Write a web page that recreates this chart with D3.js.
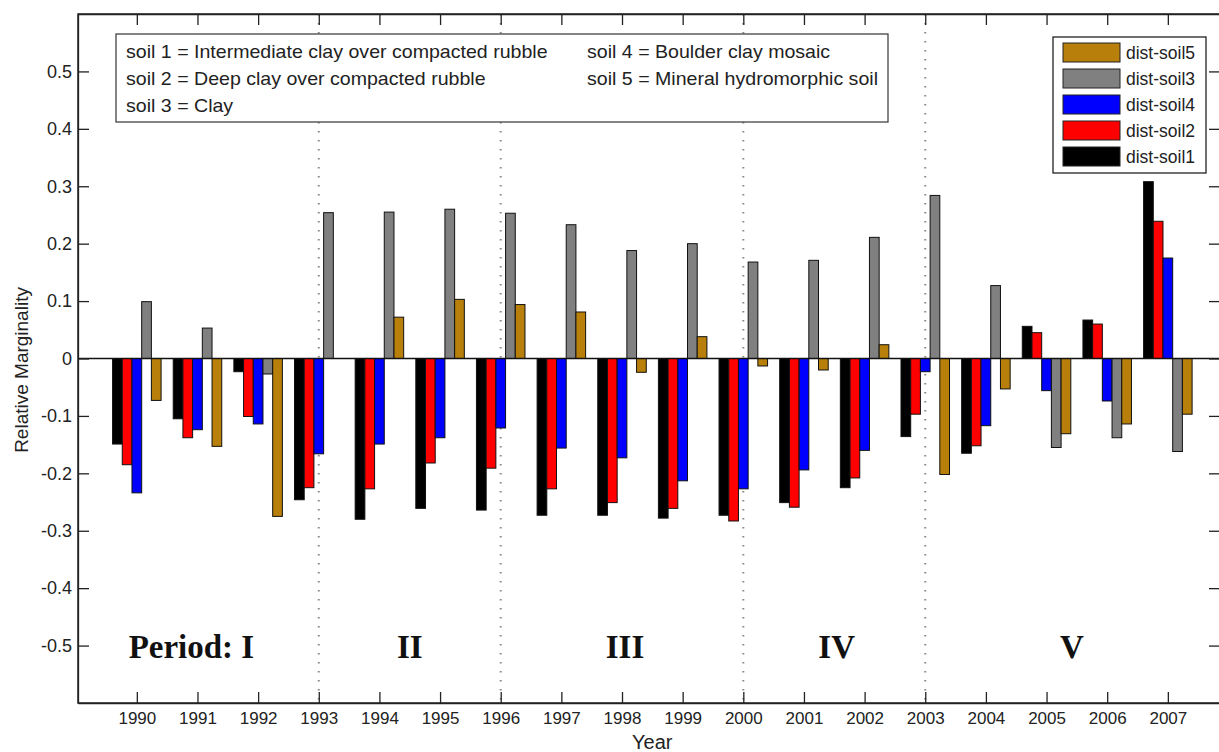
<!DOCTYPE html>
<html>
<head>
<meta charset="utf-8">
<script src="https://cdn.jsdelivr.net/npm/d3@7"></script>
<style>
  html, body { margin: 0; padding: 0; background: #fff; }
  svg { display: block; }
  .axis text { font-family: "Liberation Sans", Arial, sans-serif; fill: #222; }
  .axis path, .axis line { stroke: #222; stroke-width: 1.3; }
</style>
</head>
<body>
<svg id="chart" width="1219" height="752"></svg>
<script>
// Years on the x axis
const years = [1990, 1991, 1992, 1993, 1994, 1995, 1996, 1997, 1998, 1999,
               2000, 2001, 2002, 2003, 2004, 2005, 2006, 2007];

// Relative marginality per soil type, one value per year
const soil1 = [-0.149, -0.105, -0.023, -0.246, -0.280, -0.261, -0.264, -0.273, -0.273,
               -0.278, -0.273, -0.251, -0.225, -0.136, -0.165, 0.056, 0.067, 0.308];
const soil2 = [-0.185, -0.138, -0.101, -0.225, -0.227, -0.182, -0.191, -0.227, -0.251,
               -0.261, -0.283, -0.259, -0.208, -0.097, -0.152, 0.045, 0.060, 0.239];
const soil4 = [-0.234, -0.124, -0.114, -0.166, -0.149, -0.138, -0.121, -0.156, -0.173,
               -0.213, -0.227, -0.194, -0.160, -0.023, -0.117, -0.056, -0.074, 0.175];
const soil3 = [0.099, 0.053, -0.027, 0.254, 0.255, 0.260, 0.253, 0.233, 0.188,
               0.200, 0.168, 0.171, 0.211, 0.284, 0.127, -0.155, -0.138, -0.162];
const soil5 = [-0.073, -0.153, -0.275, 0.000, 0.072, 0.103, 0.094, 0.081, -0.024,
               0.038, -0.013, -0.020, 0.024, -0.202, -0.053, -0.131, -0.114, -0.097];

// Bar order within each year group
const seriesNames = ["dist-soil1", "dist-soil2", "dist-soil4", "dist-soil3", "dist-soil5"];
const seriesValues = [soil1, soil2, soil4, soil3, soil5];
const seriesColors = ["#000000", "#ff0000", "#0000ff", "#808080", "#b8800a"];

// Legend order (top to bottom)
const legendOrder = ["dist-soil5", "dist-soil3", "dist-soil4", "dist-soil2", "dist-soil1"];

const yTicks = [-0.5, -0.4, -0.3, -0.2, -0.1, 0, 0.1, 0.2, 0.3, 0.4, 0.5];

// Management period boundaries and labels
const periodBreaks = [1993, 1996, 2000, 2003];
const periodLabels = [
  { text: "Period: I", year: 1990.9 },
  { text: "II", year: 1994.5 },
  { text: "III", year: 1998.05 },
  { text: "IV", year: 2001.54 },
  { text: "V", year: 2005.42 }
];

// Soil descriptions in the note box
const noteCol1 = ["soil 1 = Intermediate clay over compacted rubble",
                  "soil 2 = Deep clay over compacted rubble",
                  "soil 3 = Clay"];
const noteCol2 = ["soil 4 = Boulder clay mosaic",
                  "soil 5 = Mineral hydromorphic soil"];

const svg = d3.select("#chart");
const margin = { left: 78, top: 14, right: 1220, bottom: 703 };

const x = d3.scaleLinear().domain([1989.03, 2007.86]).range([margin.left, margin.right]);
const y = d3.scaleLinear().domain([-0.6, 0.6]).range([margin.bottom, margin.top]);

const groupWidth = 0.8;
const barW = groupWidth / seriesNames.length;
const sans = "Liberation Sans, Arial, sans-serif";

// Period separators (dotted)
svg.append("g").selectAll("line")
  .data(periodBreaks)
  .join("line")
  .attr("x1", d => x(d)).attr("x2", d => x(d))
  .attr("y1", margin.top).attr("y2", margin.bottom)
  .attr("stroke", "#8a8a8a")
  .attr("stroke-width", 2)
  .attr("stroke-dasharray", "1.6,7.4");

// Bars
const bars = svg.append("g");
seriesNames.forEach((name, si) => {
  const data = years.map((yr, i) => ({ yr, v: seriesValues[si][i] }));
  bars.append("g")
    .selectAll("rect")
    .data(data.filter(d => d.v !== 0))
    .join("rect")
    .attr("x", d => x(d.yr - groupWidth / 2 + si * barW))
    .attr("width", d => x(d.yr - groupWidth / 2 + (si + 1) * barW) - x(d.yr - groupWidth / 2 + si * barW))
    .attr("y", d => y(Math.max(0, d.v)))
    .attr("height", d => Math.abs(y(d.v) - y(0)))
    .attr("fill", seriesColors[si])
    .attr("stroke", "#111")
    .attr("stroke-width", 1);
});

// Zero line
svg.append("line")
  .attr("x1", margin.left).attr("x2", margin.right)
  .attr("y1", y(0)).attr("y2", y(0))
  .attr("stroke", "#111").attr("stroke-width", 1.3);

// Axes with inward ticks
const tickLen = 11;
const yFmt = d => d === 0 ? "0" : d3.format(".1f")(d).replace("\u2212", "-");
svg.append("g").attr("class", "axis")
  .attr("transform", `translate(0,${margin.bottom})`)
  .call(d3.axisBottom(x).tickValues(years).tickFormat(d3.format("d"))
        .tickSizeInner(-tickLen).tickSizeOuter(0).tickPadding(9))
  .selectAll("text").attr("font-size", 17);
svg.append("g").attr("class", "axis")
  .attr("transform", `translate(0,${margin.top})`)
  .call(d3.axisTop(x).tickValues(years).tickFormat("")
        .tickSizeInner(-tickLen).tickSizeOuter(0));
svg.append("g").attr("class", "axis")
  .attr("transform", `translate(${margin.left},0)`)
  .call(d3.axisLeft(y).tickValues(yTicks).tickFormat(yFmt)
        .tickSizeInner(-tickLen).tickSizeOuter(0).tickPadding(6))
  .selectAll("text").attr("font-size", 18);
svg.append("g").attr("class", "axis")
  .attr("transform", `translate(${margin.right},0)`)
  .call(d3.axisRight(y).tickValues(yTicks).tickFormat("")
        .tickSizeInner(-tickLen).tickSizeOuter(0));

// Frame
svg.append("rect")
  .attr("x", margin.left).attr("y", margin.top)
  .attr("width", margin.right - margin.left).attr("height", margin.bottom - margin.top)
  .attr("fill", "none").attr("stroke", "#222").attr("stroke-width", 1.5);

// Axis titles
svg.append("text")
  .attr("x", x(1998.5)).attr("y", 749)
  .attr("text-anchor", "middle")
  .attr("font-family", sans)
  .attr("font-size", 20).attr("fill", "#222")
  .text("Year");
svg.append("text")
  .attr("transform", `translate(28,${y(-0.02)}) rotate(-90)`)
  .attr("text-anchor", "middle")
  .attr("font-family", sans)
  .attr("font-size", 19).attr("fill", "#222")
  .text("Relative Marginality");

// Period labels
svg.append("g").selectAll("text")
  .data(periodLabels)
  .join("text")
  .attr("x", d => x(d.year)).attr("y", 658)
  .attr("text-anchor", "middle")
  .attr("font-family", "Liberation Serif, 'Times New Roman', serif")
  .attr("font-weight", "bold")
  .attr("font-size", 33)
  .attr("fill", "#111")
  .text(d => d.text);

// Note box with soil descriptions
const note = svg.append("g");
note.append("rect")
  .attr("x", 116).attr("y", 34).attr("width", 772).attr("height", 88)
  .attr("fill", "#fff").attr("stroke", "#444").attr("stroke-width", 1.3);
const noteText = (col, x0) => note.append("g").selectAll("text")
  .data(col).join("text")
  .attr("transform", (d, i) => `translate(${x0},${58 + i * 27}) scale(1.1,1)`)
  .attr("font-family", sans)
  .attr("font-size", 17.8).attr("fill", "#222")
  .text(d => d);
noteText(noteCol1, 126);
noteText(noteCol2, 587);

// Legend
const legend = svg.append("g");
legend.append("rect")
  .attr("x", 1053).attr("y", 37).attr("width", 153).attr("height", 136)
  .attr("fill", "#fff").attr("stroke", "#222").attr("stroke-width", 1.3);
legendOrder.forEach((name, i) => {
  const si = seriesNames.indexOf(name);
  legend.append("rect")
    .attr("x", 1063).attr("y", 43 + i * 26).attr("width", 57).attr("height", 19)
    .attr("fill", seriesColors[si]).attr("stroke", "#222").attr("stroke-width", 1);
  legend.append("text")
    .attr("x", 1126).attr("y", 59 + i * 26)
    .attr("font-family", sans)
    .attr("font-size", 17.5).attr("fill", "#222")
    .text(name);
});
</script>
</body>
</html>
